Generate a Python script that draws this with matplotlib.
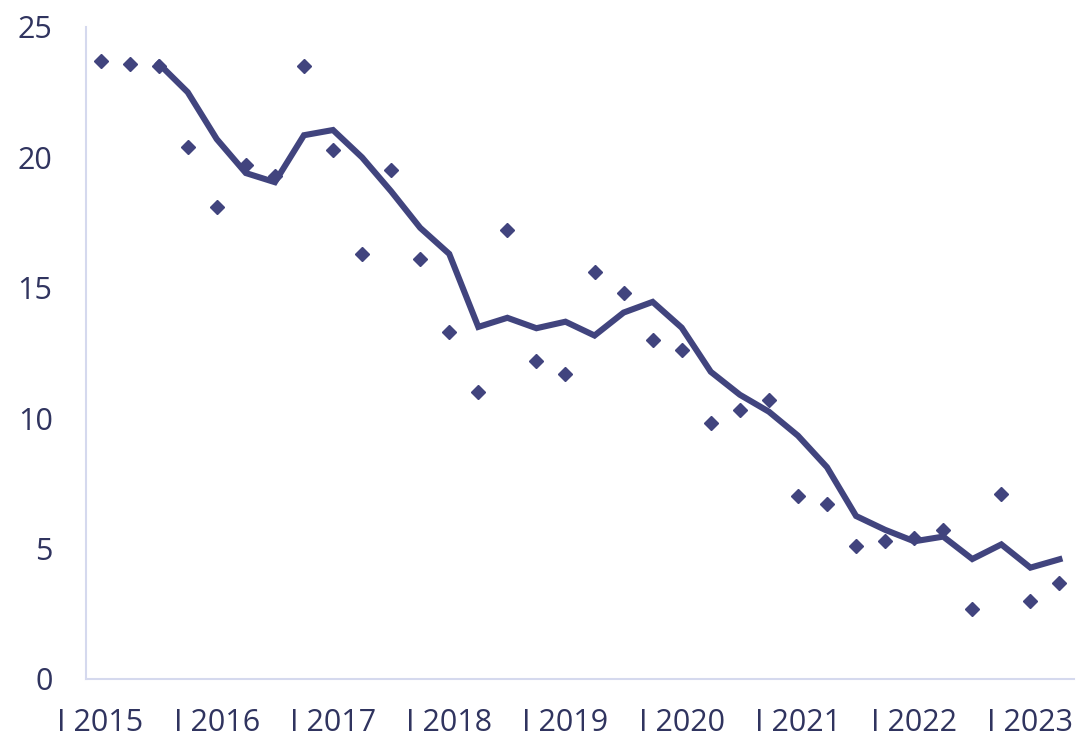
import matplotlib
matplotlib.use("Agg")
import matplotlib.pyplot as plt

# quarterly values, I 2015 .. II 2023
quarters = [f"{q} {y}" for y in range(2015, 2024) for q in ["I", "II", "III", "IV"]][:34]
quarterly = [23.7, 23.6, 23.5, 20.4, 18.1, 19.7, 19.3, 23.5,
             20.3, 16.3, 19.5, 16.1, 13.3, 11.0, 17.2, 12.2,
             11.7, 15.6, 14.8, 13.0, 12.6, 9.8, 10.3, 10.7,
             7.0, 6.7, 5.1, 5.3, 5.4, 5.7, 2.7, 7.1,
             3.0, 3.7]
# smoothed line starts at III 2015
smoothed = [None, None, 23.6, 22.5, 20.7, 19.4, 19.05, 20.85,
            21.05, 20.0, 18.7, 17.3, 16.3, 13.5, 13.85, 13.45,
            13.7, 13.17, 14.05, 14.46, 13.47, 11.78, 10.9, 10.25,
            9.33, 8.12, 6.25, 5.72, 5.28, 5.46, 4.6, 5.16,
            4.27, 4.59]
tick_labels = ["I 2015", "I 2016", "I 2017", "I 2018", "I 2019",
               "I 2020", "I 2021", "I 2022", "I 2023"]

navy = "#41447e"
text_col = "#30345f"
axis_col = "#d5d9ee"

plt.rcParams["font.family"] = ["Open Sans", "DejaVu Sans"]

fig = plt.figure(figsize=(10.79, 7.36), dpi=100)
ax = fig.add_axes([86 / 1079, 1 - 679 / 736, (1074 - 86) / 1079, (679 - 27) / 736])

x = list(range(len(quarters)))
xs = [i for i, v in zip(x, smoothed) if v is not None]
ys = [v for v in smoothed if v is not None]
ax.plot(xs, ys, color=navy, lw=4.4, solid_joinstyle="miter", zorder=2)
ax.plot(x, quarterly, ls="none", marker="D", ms=7.5, color=navy, zorder=3)

ax.set_xlim(-0.5, len(quarters) - 0.5)
ax.set_ylim(0, 25)
ax.set_yticks([0, 5, 10, 15, 20, 25])
ax.set_xticks(x[::4])
ax.set_xticklabels(tick_labels)

for s in ["top", "right"]:
    ax.spines[s].set_visible(False)
for s in ["left", "bottom"]:
    ax.spines[s].set_color(axis_col)
    ax.spines[s].set_linewidth(1.5)

ax.tick_params(axis="both", length=0, labelsize=22, labelcolor=text_col)
ax.tick_params(axis="y", pad=24)
ax.tick_params(axis="x", pad=21)

fig.savefig("out.png", dpi=100)
